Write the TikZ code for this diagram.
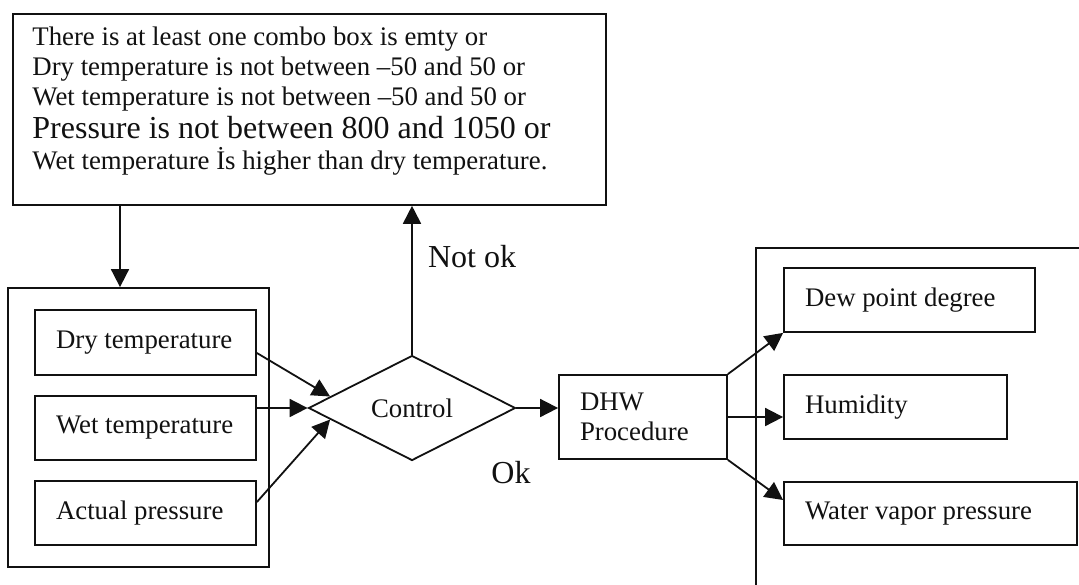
\documentclass[tikz,border=0pt]{standalone}
\usepackage{fontspec}
\setmainfont{Liberation Serif}
\usetikzlibrary{shapes.geometric,arrows.meta}
\definecolor{Ink}{HTML}{111111}
\definecolor{Paper}{HTML}{FFFFFF}
\newcommand{\boxlabel}[2]{\makebox[#1][l]{#2}}

\begin{document}
\begin{tikzpicture}[x=0.5pt,y=-0.5pt,every node/.style={text=Ink,font=\fontsize{13.4}{15}\selectfont},box/.style={draw=Ink,line width=0.9pt,rectangle,inner sep=0pt},item/.style={box,inner xsep=10.5pt,inner ysep=0pt},arr/.style={draw=Ink,line width=0.9pt,-{Triangle[length=9pt,width=9pt]}},big/.style={font=\fontsize{16}{18}\selectfont}]
\useasboundingbox (0,0) rectangle (1079,584);
\fill[Paper] (0,0) rectangle (1079,584);
\clip (0,0) rectangle (1079,584);
\node[box,anchor=north west,minimum width=296.5pt,minimum height=95.5pt] (cond) at (12,13) {};
\node[anchor=north west,align=left,inner sep=0pt] (condtext) at (32,26) {There is at least one combo box is emty or\\Dry temperature is not between –50 and 50 or\\Wet temperature is not between –50 and 50 or\\[1.5pt]{\fontsize{16}{17}\selectfont Pressure is not between 800 and 1050 or}\\[0.5pt]Wet temperature İs higher than dry temperature.};
\node[box,minimum width=130.5pt,minimum height=139.5pt] (inputs) at (138.5,427.5) {};
\node[item,minimum height=32.5pt] (dry) at (145.5,342.5) {\boxlabel{89.5pt}{Dry temperature}};
\node[item,minimum height=32pt] (wet) at (145.5,428) {\boxlabel{89.5pt}{Wet temperature}};
\node[item,minimum height=32pt] (act) at (145.5,513) {\boxlabel{89.5pt}{Actual pressure}};
\node[draw=Ink,line width=0.9pt,diamond,minimum width=103.5pt,minimum height=52.5pt,inner sep=0pt] (ctrl) at (412,408) {Control};
\node[big] (notok) at (472,257) {Not ok};
\node[big] (ok) at (511,473) {Ok};
\node[item,text width=63pt,align=left,minimum height=42pt] (dhw) at (643,417) {DHW\\Procedure};
\node[box,anchor=north west,minimum width=170pt,minimum height=180pt] (outputs) at (755,247) {};
\node[item,minimum height=32pt] (dew) at (909.5,300) {\boxlabel{104.5pt}{Dew point degree}};
\node[item,minimum height=32pt] (hum) at (895.5,407) {\boxlabel{90.5pt}{Humidity}};
\node[item,minimum height=31.5pt] (water) at (930.5,513.5) {\boxlabel{125.5pt}{Water vapor pressure}};
\coordinate (drop) at ([xshift=54pt]cond.south west);
\draw[arr] (drop) -- (drop |- inputs.north);
\draw[arr] (ctrl.north) -- (ctrl.north |- cond.south);
\draw[arr] ([yshift=-5.25pt]dry.east) -- (ctrl.172);
\draw[arr] (wet.east |- ctrl.west) -- (ctrl.west);
\draw[arr] ([yshift=5.5pt]act.east) -- (ctrl.188);
\draw[arr] (ctrl.east) -- (ctrl.east -| dhw.west);
\draw[arr] (dhw.north east) -- (dew.south west);
\draw[arr] (dhw.east) -- (dhw.east -| hum.west);
\draw[arr] (dhw.south east) -- ([yshift=6.75pt]water.west);
\end{tikzpicture}
\end{document}
